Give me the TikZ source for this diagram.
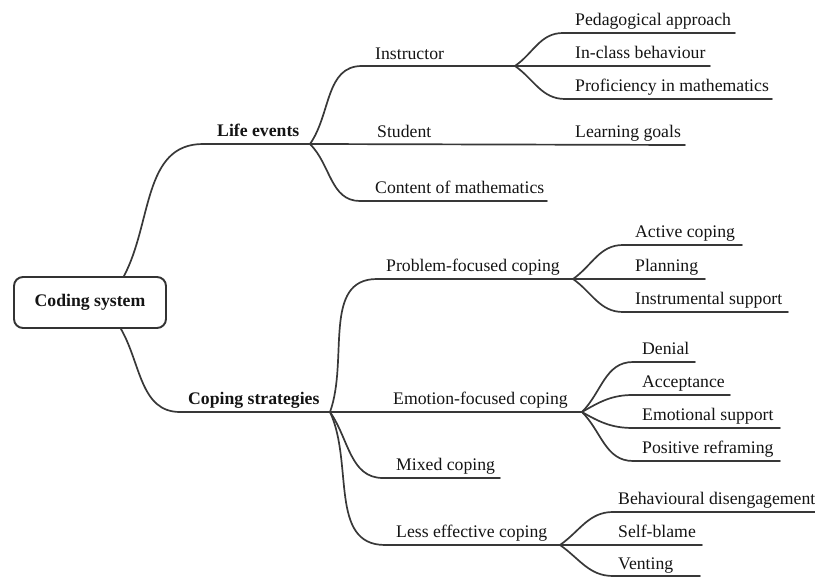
\documentclass[tikz,border=0pt]{standalone}
\usepackage{fontspec}
\setmainfont{Liberation Serif}
\newfontfamily\mapfont{Liberation Serif}
\begin{document}
\begin{tikzpicture}[x=1pt,y=1pt,
  lbl/.style={anchor=base west,inner sep=0pt,text=black!92,font=\mapfont\fontsize{17.7}{20}\selectfont},
  hub/.style={lbl,font=\mapfont\fontsize{17.7}{20}\selectfont\bfseries},
  branch/.style={draw=black!78,line width=1.7pt,line cap=round,line join=round},
  rootbox/.style={draw=black!80,line width=1.9pt,rounded corners=9pt,fill=white,
    minimum width=152pt,minimum height=51pt,inner sep=0pt,text=black!92,
    font=\mapfont\fontsize{17.7}{20}\selectfont\bfseries}]
\useasboundingbox (0,0) rectangle (815,-577);

% root
\node[rootbox] (root) at (90,-302.5) {Coding system};

% underline end points of every topic
\coordinate (life-s) at (203,-144); \coordinate (life-e) at (310,-144);
\coordinate (cop-s)  at (180,-412); \coordinate (cop-e)  at (330,-412);

\coordinate (ins-s) at (362,-66);  \coordinate (ins-e) at (515,-66);
\coordinate (stu-e) at (685,-145);
\coordinate (con-s) at (360,-201); \coordinate (con-e) at (547,-201);

\coordinate (ped-s) at (563,-33);  \coordinate (ped-e) at (735,-33);
\coordinate (inc-e) at (710,-66);
\coordinate (pro-s) at (565,-99);  \coordinate (pro-e) at (772,-99);

\coordinate (prb-s) at (377,-279); \coordinate (prb-e) at (573,-279);
\coordinate (emo-e) at (582,-412);
\coordinate (mix-s) at (383,-478); \coordinate (mix-e) at (500,-478);
\coordinate (les-s) at (385,-545); \coordinate (les-e) at (560,-545);

\coordinate (act-s) at (623,-245); \coordinate (act-e) at (742,-245);
\coordinate (pla-e) at (705,-279);
\coordinate (inst-s) at (623,-312); \coordinate (inst-e) at (788,-312);

\coordinate (den-s) at (633,-362); \coordinate (den-e) at (695,-362);
\coordinate (acc-s) at (633,-395); \coordinate (acc-e) at (730,-395);
\coordinate (esu-s) at (633,-428); \coordinate (esu-e) at (780,-428);
\coordinate (pos-s) at (633,-461); \coordinate (pos-e) at (780,-461);

\coordinate (beh-s) at (613,-512); \coordinate (beh-e) at (815,-512);
\coordinate (sel-e) at (702,-545);
\coordinate (ven-s) at (613,-576); \coordinate (ven-e) at (700,-576);

% labels
\node[hub] (life) at (217,-137) {Life events};
\node[hub] (cop)  at (188,-405) {Coping strategies};

\node[lbl] (ins) at (375,-60)  {Instructor};
\node[lbl] (stu) at (377,-138) {Student};
\node[lbl] (lrn) at (575,-138) {Learning goals};
\node[lbl] (con) at (375,-194) {Content of mathematics};

\node[lbl] (ped) at (575,-26) {Pedagogical approach};
\node[lbl] (inc) at (575,-59) {In-class behaviour};
\node[lbl] (pro) at (575,-92) {Proficiency in mathematics};

\node[lbl] (prb) at (386,-272) {Problem-focused coping};
\node[lbl] (emo) at (393,-405) {Emotion-focused coping};
\node[lbl] (mix) at (396,-471) {Mixed coping};
\node[lbl] (les) at (396,-538) {Less effective coping};

\node[lbl] (act)  at (635,-238) {Active coping};
\node[lbl] (pla)  at (635,-272) {Planning};
\node[lbl] (inst) at (635,-305) {Instrumental support};

\node[lbl] (den) at (642,-355) {Denial};
\node[lbl] (acc) at (642,-388) {Acceptance};
\node[lbl] (esu) at (642,-421) {Emotional support};
\node[lbl] (pos) at (642,-454) {Positive reframing};

\node[lbl] (beh) at (618,-505) {Behavioural disengagement};
\node[lbl] (sel) at (618,-538) {Self-blame};
\node[lbl] (ven) at (618,-569) {Venting};

% connectors: root to main branches
\draw[branch] ([xshift=-43pt]root.north east) to[out=62,in=180] (life-s) -- (life-e);
\draw[branch] ([xshift=-46pt]root.south east) to[out=-60,in=180] (cop-s) -- (cop-e);

% life events
\draw[branch] (life-e) to[out=55,in=180] (ins-s) -- (ins-e);
\draw[branch] (life-e) -- (stu-e);
\draw[branch] (life-e) to[out=-45,in=180] (con-s) -- (con-e);

\draw[branch] (ins-e) to[out=35,in=180] (ped-s) -- (ped-e);
\draw[branch] (ins-e) -- (inc-e);
\draw[branch] (ins-e) to[out=-35,in=180] (pro-s) -- (pro-e);

% coping strategies
\draw[branch] (cop-e) to[out=70,in=180] (prb-s) -- (prb-e);
\draw[branch] (cop-e) -- (emo-e);
\draw[branch] (cop-e) to[out=-55,in=180] (mix-s) -- (mix-e);
\draw[branch] (cop-e) to[out=-65,in=180] (les-s) -- (les-e);

\draw[branch] (prb-e) to[out=35,in=180] (act-s) -- (act-e);
\draw[branch] (prb-e) -- (pla-e);
\draw[branch] (prb-e) to[out=-35,in=180] (inst-s) -- (inst-e);

\draw[branch] (emo-e) to[out=45,in=180] (den-s) -- (den-e);
\draw[branch] (emo-e) to[out=30,in=180] (acc-s) -- (acc-e);
\draw[branch] (emo-e) to[out=-30,in=180] (esu-s) -- (esu-e);
\draw[branch] (emo-e) to[out=-45,in=180] (pos-s) -- (pos-e);

\draw[branch] (les-e) to[out=35,in=180] (beh-s) -- (beh-e);
\draw[branch] (les-e) -- (sel-e);
\draw[branch] (les-e) to[out=-35,in=180] (ven-s) -- (ven-e);
\end{tikzpicture}
\end{document}
